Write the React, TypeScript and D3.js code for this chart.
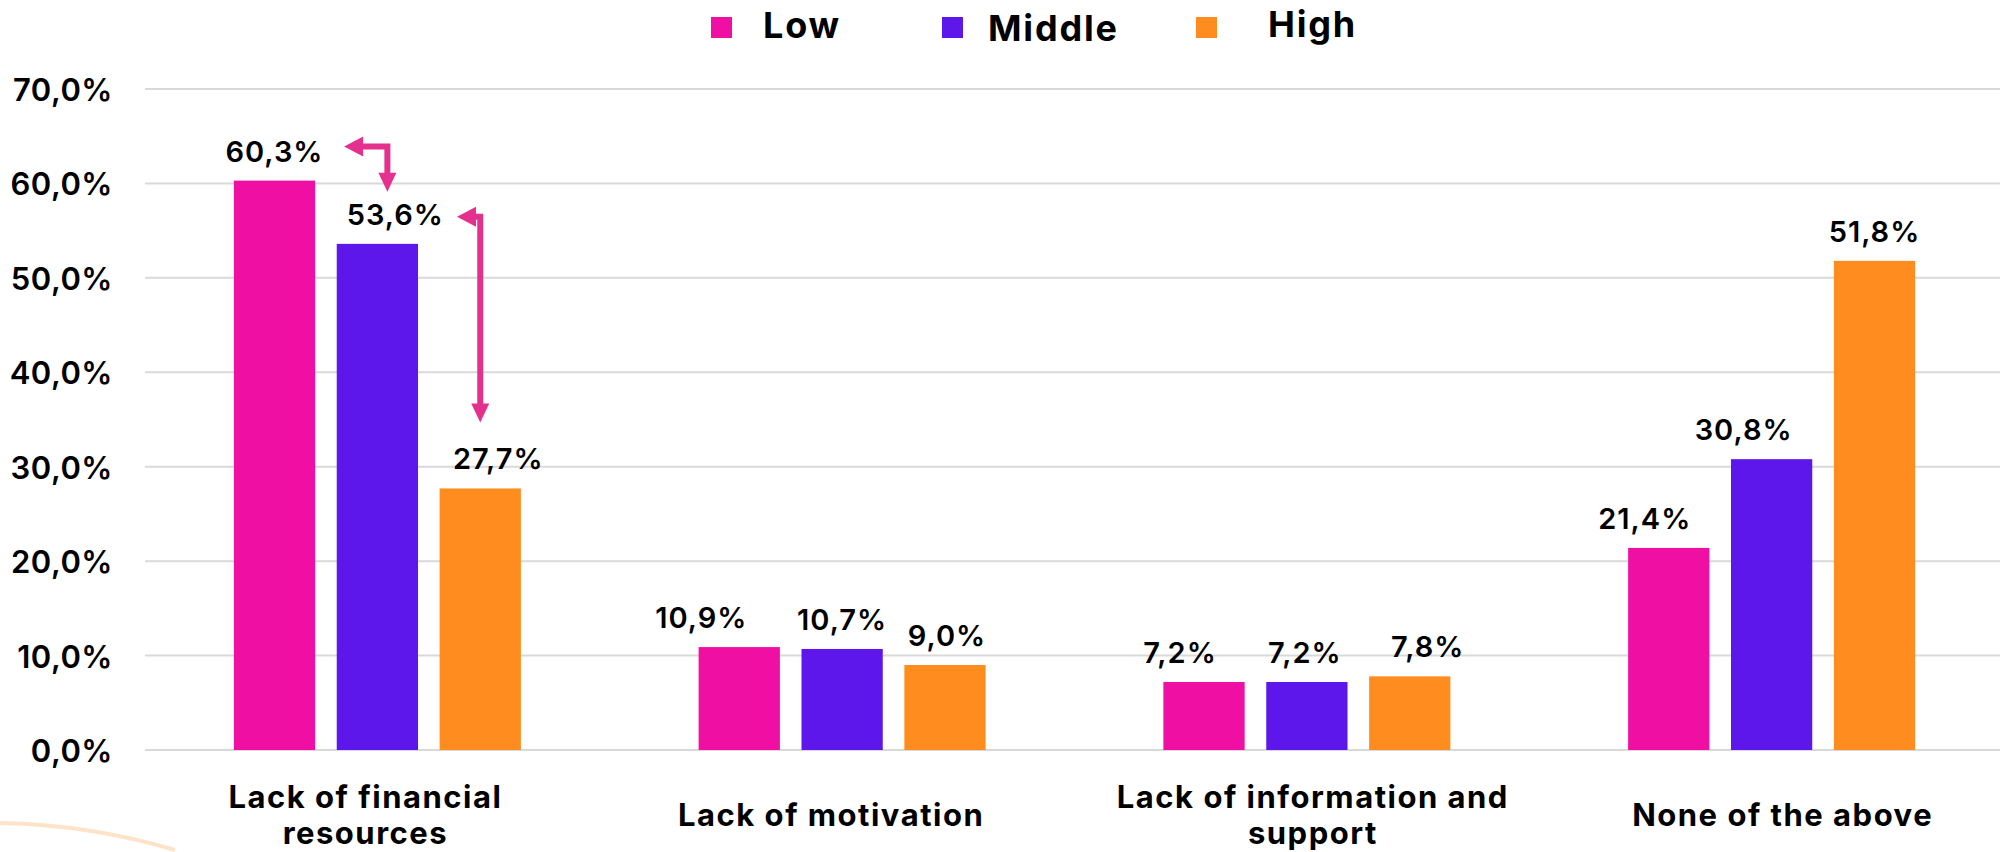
import React from "react";
import * as d3 from "d3";

const categories: string[][] = [
  ["Lack of financial", "resources"],
  ["Lack of motivation"],
  ["Lack of information and", "support"],
  ["None of the above"],
];
const seriesNames = ["Low", "Middle", "High"];
const lowValues = [60.3, 10.9, 7.2, 21.4];
const middleValues = [53.6, 10.7, 7.2, 30.8];
const highValues = [27.7, 9.0, 7.8, 51.8];
const yTicks = [0, 10, 20, 30, 40, 50, 60, 70];

// manual label nudges (as placed in the original)
const labelShift = [
  [0, -38, -24, -24],
  [18, 0, -2, -28],
  [18, 2, 18, 0],
];
const categoryShift = [-12, -11, 6, 11];

const colors = ["#F00FA3", "#5E17EB", "#FF8C1F"];
const arrowColor = "#E4318E";
const FONT = "Inter, 'Open Sans', sans-serif";

const W = 2000;
const H = 852;

export default function App() {
  const values = [lowValues, middleValues, highValues];
  const catKeys = categories.map((c) => c.join(" "));
  const x0 = d3.scaleBand<string>().domain(catKeys).range([145, 2004]).padding(0);
  const x1 = d3
    .scaleBand<string>()
    .domain(seriesNames)
    .range([-143.5, 143.5])
    .paddingInner(0.21)
    .paddingOuter(0);
  const y = d3.scaleLinear().domain([0, 70]).range([750, 89]);
  const fmt = (v: number) => d3.format(".1f")(v).replace(".", ",") + "%";
  const bw = x1.bandwidth();

  const center = (ci: number) => (x0(catKeys[ci]) as number) + x0.bandwidth() / 2;
  const barX = (ci: number, si: number) => center(ci) + (x1(seriesNames[si]) as number);

  // arrows (annotation) derived from the first group's bars
  const lowRight = barX(0, 0) + bw;
  const midCenter = barX(0, 1) + bw / 2;
  const midRight = barX(0, 1) + bw;
  const highCenter = barX(0, 2) + bw / 2;
  const a1y = y(lowValues[0]) - 34;
  const a1x = midCenter + 10;
  const a1end = y(middleValues[0]) - 52;
  const a2y = y(middleValues[0]) - 27;
  const a2x = highCenter;
  const a2end = y(highValues[0]) - 66;
  const a1tip = lowRight + 29;
  const a2tip = midRight + 39;

  const legendSquareX = [711, 942, 1196];
  const legendTextX = [763, 988, 1268];
  const legendBaseline = [38, 41, 37];

  return (
    <svg
      width={W}
      height={H}
      viewBox={`0 0 ${W} ${H}`}
      style={{ position: "absolute", left: 0, top: 0, background: "#fff", display: "block" }}
    >
      <rect x={0} y={0} width={W} height={H} fill="#fff" />
      {/* decorative arc */}
      <path d="M -20 823 A 662 662 0 0 1 175 850" fill="none" stroke="#FDE3C8" strokeWidth={4} />

      {/* gridlines */}
      {yTicks.map((t) => (
        <line key={t} x1={145} x2={W} y1={y(t)} y2={y(t)} stroke="#D9D9D9" strokeWidth={2} />
      ))}
      {/* y tick labels */}
      {yTicks.map((t) => (
        <text
          key={"l" + t}
          x={113}
          y={y(t) + 12}
          textAnchor="end"
          fontFamily={FONT}
          fontWeight={600}
          fontSize={31}
          letterSpacing={0.5}
          fill="#000"
        >
          {fmt(t)}
        </text>
      ))}

      {/* bars */}
      {values.map((vals, si) =>
        vals.map((v, ci) => (
          <rect
            key={`b${si}-${ci}`}
            x={barX(ci, si)}
            y={y(v)}
            width={bw}
            height={y(0) - y(v)}
            fill={colors[si]}
          />
        ))
      )}

      {/* value labels */}
      {values.map((vals, si) =>
        vals.map((v, ci) => (
          <text
            key={`v${si}-${ci}`}
            x={barX(ci, si) + bw / 2 + labelShift[si][ci]}
            y={y(v) - 19}
            textAnchor="middle"
            fontFamily={FONT}
            fontWeight={600}
            fontSize={29}
            letterSpacing={1}
            fill="#000"
          >
            {fmt(v)}
          </text>
        ))
      )}

      {/* category labels */}
      {categories.map((lines, ci) => (
        <text
          key={"c" + ci}
          textAnchor="middle"
          fontFamily={FONT}
          fontWeight={700}
          fontSize={31}
          letterSpacing={1.5}
          fill="#000"
        >
          {lines.map((ln, li) => (
            <tspan
              key={li}
              x={center(ci) + categoryShift[ci]}
              y={lines.length === 1 ? 826 : 808 + li * 36}
            >
              {ln}
            </tspan>
          ))}
        </text>
      ))}

      {/* legend */}
      {seriesNames.map((s, i) => (
        <g key={"lg" + s}>
          <rect x={legendSquareX[i]} y={17} width={21} height={21} fill={colors[i]} />
          <text
            x={legendTextX[i]}
            y={legendBaseline[i]}
            fontFamily={FONT}
            fontWeight={700}
            fontSize={36}
            letterSpacing={1.8}
            fill="#000"
          >
            {s}
          </text>
        </g>
      ))}

      {/* arrows */}
      <g stroke={arrowColor} strokeWidth={6} fill="none">
        <polyline points={`${a1tip + 14},${a1y} ${a1x},${a1y} ${a1x},${a1end - 16}`} />
        <polyline points={`${a2tip + 14},${a2y} ${a2x},${a2y} ${a2x},${a2end - 16}`} />
      </g>
      <g fill={arrowColor}>
        <polygon points={`${a1tip},${a1y} ${a1tip + 19},${a1y - 10} ${a1tip + 19},${a1y + 10}`} />
        <polygon points={`${a1x},${a1end} ${a1x - 9},${a1end - 19} ${a1x + 9},${a1end - 19}`} />
        <polygon points={`${a2tip},${a2y} ${a2tip + 19},${a2y - 10} ${a2tip + 19},${a2y + 10}`} />
        <polygon points={`${a2x},${a2end} ${a2x - 9},${a2end - 19} ${a2x + 9},${a2end - 19}`} />
      </g>
    </svg>
  );
}
